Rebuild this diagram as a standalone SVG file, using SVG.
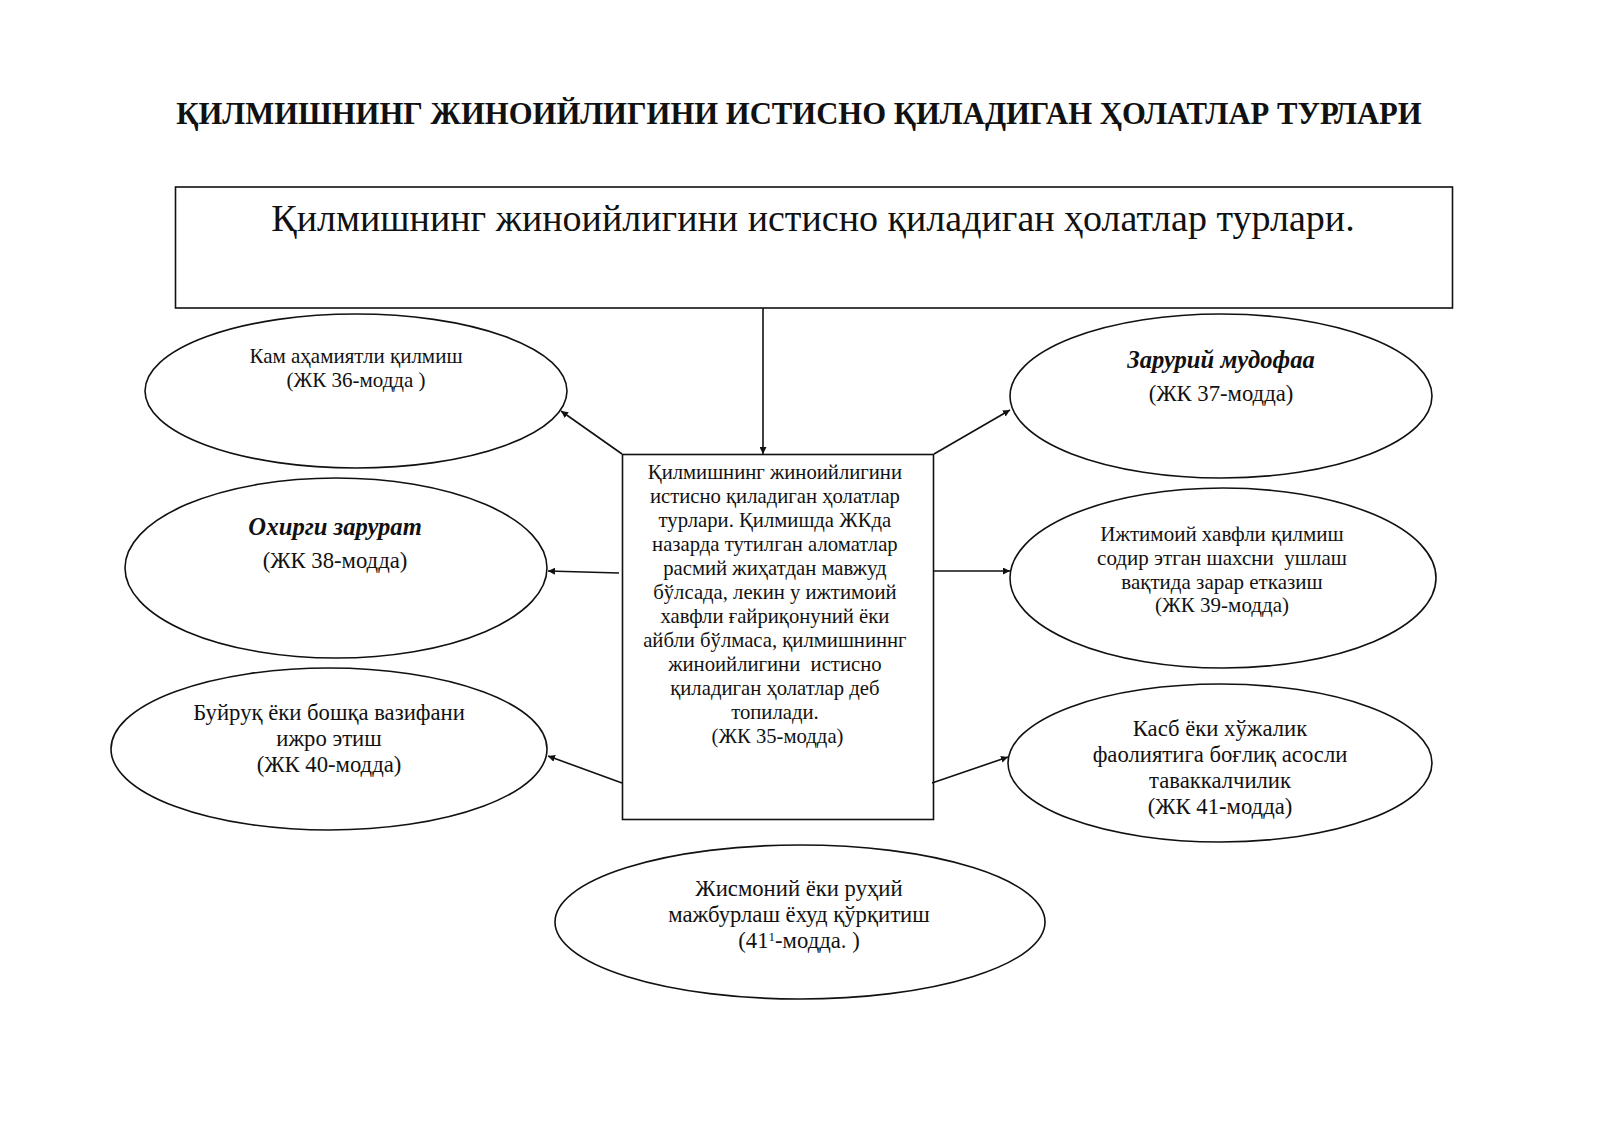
<svg xmlns="http://www.w3.org/2000/svg" width="1600" height="1131" viewBox="0 0 1600 1131">
<defs>
<style>
.t{font-family:"Liberation Serif","Times New Roman",serif;fill:#111;text-anchor:middle}
.s{font-size:22.7px}
.m{font-size:21px}
.c{font-size:20.7px}
.bi{font-weight:bold;font-style:italic;font-size:24.6px}
.shape{fill:#fff;stroke:#111;stroke-width:1.6}
.line{stroke:#111;stroke-width:1.6;fill:none;marker-end:url(#arr)}
</style>
<marker id="arr" viewBox="0 0 10 10" refX="10" refY="5" markerWidth="7" markerHeight="7" orient="auto" markerUnits="userSpaceOnUse">
<path d="M0,0 L10,5 L0,10 z" fill="#111"/>
</marker>
</defs>
<rect width="1600" height="1131" fill="#fff"/>
<text class="t" x="799" y="124" style="font-size:30.7px;font-weight:bold">ҚИЛМИШНИНГ ЖИНОИЙЛИГИНИ ИСТИСНО ҚИЛАДИГАН ҲОЛАТЛАР ТУРЛАРИ</text>

<g id="top">
<rect class="shape" x="175.5" y="187" width="1277" height="121"/>
<text class="t" x="813" y="231" style="font-size:38px">Қилмишнинг жиноийлигини истисно қиладиган ҳолатлар турлари.</text>
</g>

<g id="center">
<rect class="shape" x="622.5" y="454.5" width="311" height="365"/>
<text class="t c">
<tspan x="777.5" y="479">Қилмишнинг жиноийлигини</tspan>
<tspan x="777.5" y="503">истисно қиладиган ҳолатлар</tspan>
<tspan x="777.5" y="527">турлари. Қилмишда ЖКда</tspan>
<tspan x="777.5" y="551">назарда тутилган аломатлар</tspan>
<tspan x="777.5" y="575">расмий жиҳатдан мавжуд</tspan>
<tspan x="777.5" y="599">бўлсада, лекин у ижтимоий</tspan>
<tspan x="777.5" y="623">хавфли ғайриқонуний ёки</tspan>
<tspan x="777.5" y="647">айбли бўлмаса, қилмишниннг</tspan>
<tspan x="777.5" y="671">жиноийлигини &#160;истисно</tspan>
<tspan x="777.5" y="695">қиладиган ҳолатлар деб</tspan>
<tspan x="777.5" y="719">топилади.</tspan>
<tspan x="777.5" y="743">(ЖК 35-модда)</tspan>
</text>
</g>

<g id="n36">
<ellipse class="shape" cx="356" cy="391" rx="211" ry="77"/>
<text class="t m"><tspan x="356" y="363">Кам аҳамиятли қилмиш</tspan><tspan x="356" y="387">(ЖК 36-модда )</tspan></text>
</g>

<g id="n38">
<ellipse class="shape" cx="336" cy="568" rx="211" ry="90"/>
<text class="t bi" x="335" y="535">Охирги зарурат</text>
<text class="t s" x="335" y="568">(ЖК 38-модда)</text>
</g>

<g id="n40">
<ellipse class="shape" cx="329" cy="749" rx="218" ry="81"/>
<text class="t s"><tspan x="329" y="720">Буйруқ ёки бошқа вазифани</tspan><tspan x="329" y="746">ижро этиш</tspan><tspan x="329" y="772">(ЖК 40-модда)</tspan></text>
</g>

<g id="n37">
<ellipse class="shape" cx="1221" cy="396" rx="211" ry="82"/>
<text class="t bi" x="1221" y="368">Зарурий мудофаа</text>
<text class="t s" x="1221" y="401">(ЖК 37-модда)</text>
</g>

<g id="n39">
<ellipse class="shape" cx="1223" cy="578" rx="213" ry="90"/>
<text class="t m"><tspan x="1222" y="541">Ижтимоий хавфли қилмиш</tspan><tspan x="1222" y="565">содир этган шахсни &#160;ушлаш</tspan><tspan x="1222" y="589">вақтида зарар етказиш</tspan><tspan x="1222" y="612">(ЖК 39-модда)</tspan></text>
</g>

<g id="n41">
<ellipse class="shape" cx="1220" cy="763" rx="212" ry="79"/>
<text class="t s"><tspan x="1220" y="736">Касб ёки хўжалик</tspan><tspan x="1220" y="762">фаолиятига боғлиқ асосли</tspan><tspan x="1220" y="788">таваккалчилик</tspan><tspan x="1220" y="814">(ЖК 41-модда)</tspan></text>
</g>

<g id="n411">
<ellipse class="shape" cx="800" cy="922" rx="245" ry="77"/>
<text class="t s"><tspan x="799" y="896">Жисмоний ёки руҳий</tspan><tspan x="799" y="922">мажбурлаш ёхуд қўрқитиш</tspan><tspan x="799" y="948">(41<tspan style="font-size:13px" dy="-7">1</tspan><tspan dy="7">-модда. )</tspan></tspan></text>
</g>

<g id="connectors">
<line class="line" x1="763" y1="308" x2="763" y2="454"/>
<line class="line" x1="622" y1="454" x2="561" y2="411"/>
<line class="line" x1="619" y1="573" x2="548" y2="571"/>
<line class="line" x1="622" y1="783" x2="548" y2="756"/>
<line class="line" x1="934" y1="454" x2="1010" y2="410"/>
<line class="line" x1="934" y1="571" x2="1010" y2="571"/>
<line class="line" x1="932" y1="783" x2="1008" y2="757"/>
</g>
</svg>
